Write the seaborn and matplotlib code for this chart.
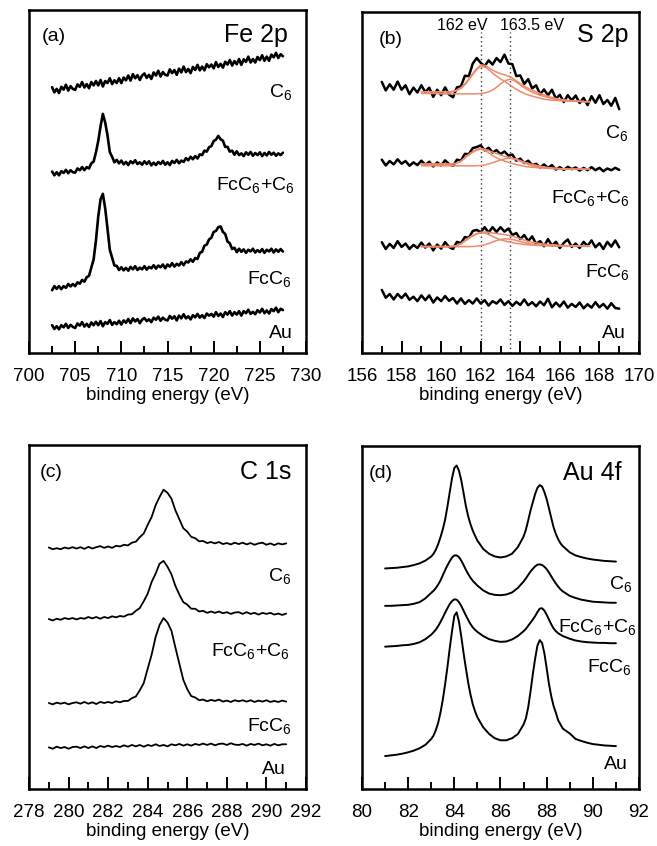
import numpy as np
import matplotlib
matplotlib.use('Agg')
import matplotlib.pyplot as plt
import matplotlib.ticker as mticker
from matplotlib.transforms import blended_transform_factory
import seaborn as sns

# ---------------- (a) Fe 2p ----------------
fe_x = np.round(np.arange(702.5, 727.51, 0.25), 2)
fe_c6 = [77.5, 76.0, 77.0, 75.8, 77.6, 76.8, 78.2, 76.5, 77.8, 77.0,
         76.7, 78.3, 77.6, 79.0, 77.4, 78.4, 77.2, 79.0, 78.0, 79.3,
         78.0, 79.6, 77.7, 79.3, 78.7, 80.1, 78.4, 79.5, 78.7, 80.1,
         78.7, 80.3, 79.5, 80.9, 79.4, 81.3, 80.1, 81.0, 79.6, 80.9,
         81.5, 80.2, 81.1, 79.9, 81.8, 80.9, 82.3, 80.6, 81.9, 81.1,
         80.9, 82.7, 81.6, 82.5, 81.1, 82.9, 81.8, 83.5, 81.9, 82.8,
         81.6, 83.4, 82.5, 84.0, 82.4, 83.5, 82.4, 84.2, 83.3, 84.1,
         83.0, 84.8, 83.4, 84.3, 83.2, 84.9, 84.1, 85.4, 83.8, 85.1,
         84.2, 85.7, 84.0, 85.6, 84.9, 86.4, 84.7, 85.7, 84.7, 86.3,
         85.4, 86.8, 85.2, 86.4, 85.2, 87.0, 86.2, 87.5, 86.0, 87.1, 86.5]
fe_mix = [52.9, 51.8, 52.7, 51.8, 53.0, 52.5, 53.4, 52.4, 53.3, 52.7,
          52.6, 53.8, 53.3, 54.2, 53.3, 54.2, 53.8, 55.3, 55.8, 58.5,
          61.8, 66.1, 69.7, 67.2, 63.5, 58.6, 57.2, 55.6, 56.3, 55.3,
          56.1, 55.0, 55.7, 54.8, 55.9, 55.3, 56.2, 55.1, 55.6, 54.9,
          55.9, 55.1, 55.9, 54.7, 55.5, 54.8, 55.7, 55.1, 56.0, 54.9,
          55.6, 54.8, 56.0, 55.4, 56.3, 55.3, 56.1, 55.7, 56.8, 56.2,
          57.2, 56.5, 57.4, 56.7, 57.9, 57.7, 59.0, 58.7, 60.0, 60.3,
          61.8, 62.2, 63.3, 62.3, 61.9, 60.1, 60.1, 58.7, 59.0, 57.8,
          58.8, 57.7, 58.2, 57.4, 58.5, 57.8, 58.6, 57.5, 58.3, 57.7,
          58.5, 57.4, 58.3, 57.6, 58.6, 57.8, 58.4, 57.5, 58.2, 57.7, 58.4]
fe_fc = [18.3, 19.5, 18.7, 19.5, 18.6, 19.5, 19.0, 20.1, 19.4, 20.1,
         19.5, 20.6, 20.2, 21.3, 20.8, 22.1, 22.5, 24.9, 27.3, 32.8,
         39.8, 44.8, 46.4, 42.2, 36.3, 30.1, 27.8, 25.5, 25.4, 24.2,
         25.0, 24.1, 24.8, 24.0, 25.1, 24.4, 25.3, 24.2, 24.9, 24.4,
         25.3, 24.3, 25.1, 24.7, 25.6, 24.6, 25.5, 25.0, 25.8, 24.7,
         25.8, 25.2, 26.2, 25.2, 26.0, 25.5, 26.5, 25.6, 26.7, 26.4,
         27.3, 26.6, 27.7, 27.4, 29.2, 29.5, 31.3, 31.6, 33.1, 33.6,
         35.3, 35.6, 36.7, 36.9, 35.3, 34.7, 32.5, 32.0, 30.3, 30.7,
         29.4, 30.4, 29.5, 30.2, 29.2, 30.1, 29.6, 30.4, 29.3, 30.0,
         29.4, 30.3, 29.2, 30.1, 29.6, 30.4, 29.3, 30.2, 29.5, 30.3, 29.6]
fe_au = [8.1, 7.0, 7.8, 6.9, 8.1, 7.5, 8.5, 7.3, 8.2, 7.6,
         7.3, 8.6, 8.0, 9.0, 7.7, 8.5, 7.6, 8.9, 8.1, 9.1,
         8.1, 9.3, 7.8, 9.0, 8.5, 9.6, 8.2, 9.0, 8.4, 9.4,
         8.3, 9.5, 8.8, 9.9, 8.7, 10.1, 9.2, 9.9, 8.7, 9.7,
         10.2, 9.3, 9.8, 9.0, 10.3, 9.7, 10.6, 9.4, 10.3, 9.7,
         9.5, 10.8, 10.0, 10.7, 9.5, 10.9, 10.1, 11.3, 10.1, 10.7,
         9.8, 11.0, 10.4, 11.4, 10.3, 11.0, 10.2, 11.5, 10.9, 11.4,
         10.6, 11.9, 10.8, 11.5, 10.5, 11.9, 11.2, 12.2, 10.9, 11.9,
         11.2, 12.2, 10.9, 12.2, 11.6, 12.6, 11.4, 12.0, 11.3, 12.5,
         11.8, 12.9, 11.6, 12.4, 11.5, 12.8, 12.2, 13.2, 11.9, 12.9, 12.5]

# ---------------- (b) S 2p ----------------
s_x = np.round(np.arange(157.0, 169.01, 0.2), 2)
s_c6 = [79.5, 77.0, 78.8, 77.2, 79.6, 77.2, 78.5, 75.9, 77.8, 76.4,
        78.5, 76.5, 77.8, 75.1, 77.2, 75.6, 77.9, 75.8, 75.0, 77.9,
        78.2, 81.3, 81.2, 84.9, 86.5, 85.1, 84.1, 85.8, 84.6, 86.5,
        85.3, 87.5, 84.9, 84.7, 81.2, 81.4, 78.9, 80.3, 77.6, 78.5,
        75.9, 77.3, 75.6, 77.2, 74.6, 75.7, 73.6, 75.6, 74.1, 75.5,
        73.3, 74.8, 72.7, 75.3, 73.4, 75.6, 73.0, 74.2, 72.5, 74.8, 71.5]
s_mix = [56.7, 55.0, 56.3, 55.3, 56.8, 55.5, 56.3, 54.9, 55.9, 55.1,
         56.4, 55.2, 56.1, 54.7, 55.9, 55.0, 56.5, 55.4, 54.9, 56.7,
         56.4, 58.4, 58.3, 60.1, 60.4, 60.9, 59.4, 60.2, 58.8, 59.5,
         58.3, 59.1, 57.9, 58.2, 56.4, 57.0, 55.7, 56.4, 55.1, 55.5,
         54.4, 55.3, 54.3, 55.1, 53.8, 54.5, 53.7, 54.6, 53.9, 54.4,
         53.5, 54.3, 53.6, 54.5, 53.6, 54.3, 53.3, 54.1, 53.6, 54.3, 53.7]
s_fc = [32.5, 30.5, 32.0, 30.8, 32.8, 31.1, 32.1, 30.5, 31.7, 30.8,
        32.4, 30.9, 32.1, 30.1, 31.8, 30.6, 32.5, 31.1, 30.5, 32.6,
        32.2, 34.0, 33.8, 35.8, 36.1, 35.4, 36.9, 35.3, 36.9, 35.5,
        36.9, 35.6, 36.5, 34.6, 35.2, 33.4, 34.6, 32.8, 34.2, 32.0,
        32.8, 31.3, 33.4, 31.5, 32.6, 30.8, 32.3, 33.3, 31.1, 32.1,
        30.8, 32.6, 31.4, 33.0, 31.0, 32.2, 30.5, 32.6, 31.2, 33.0, 31.0]
s_au = [18.5, 16.2, 17.3, 15.7, 17.3, 16.1, 17.4, 15.6, 16.5, 15.2,
        16.9, 15.5, 16.9, 14.8, 16.3, 15.2, 16.7, 15.3, 16.1, 14.5,
        16.0, 14.4, 15.5, 14.5, 16.0, 14.5, 15.5, 13.9, 15.2, 14.5,
        15.7, 14.1, 15.2, 13.8, 15.0, 14.1, 15.7, 14.0, 14.9, 13.7,
        15.1, 14.0, 15.9, 13.4, 14.8, 13.6, 15.1, 13.3, 14.4, 13.5,
        14.8, 13.1, 14.3, 13.3, 14.9, 13.4, 14.4, 13.0, 14.6, 13.2, 13.0]

# peak fits (envelope + 162 eV + 163.5 eV components)
fit_x = np.round(np.arange(159.0, 167.51, 0.25), 2)
fit_c6_env = [76.6, 76.6, 76.6, 76.6, 76.6, 76.6, 76.6, 77.0, 77.8, 79.3,
              81.2, 83.1, 84.5, 84.3, 83.3, 82.5, 81.9, 81.5, 81.0, 80.0,
              79.0, 78.1, 77.3, 76.7, 76.1, 75.6, 75.1, 74.7, 74.4, 74.2,
              74.0, 73.9, 73.8, 73.7, 73.7]
fit_c6_p1 = [76.6, 76.6, 76.6, 76.6, 76.6, 76.6, 76.6, 76.9, 77.6, 79.0,
             80.9, 82.8, 84.1, 83.8, 82.6, 81.4, 80.4, 79.5, 78.5, 77.5,
             76.7, 76.0, 75.5, 75.1, 74.7, 74.4, 74.2, 74.1, 74.0, 73.9,
             73.9, 73.8, 73.8, 73.7, 73.7]
fit_c6_p2 = [76.1, 76.1, 76.1, 76.1, 76.0, 76.0, 76.0, 76.0, 76.0, 76.0,
             76.0, 76.0, 76.1, 76.3, 76.8, 77.7, 78.9, 79.9, 80.3, 79.7,
             78.6, 77.6, 76.8, 76.1, 75.6, 75.2, 74.8, 74.4, 74.2, 74.0,
             73.9, 73.8, 73.8, 73.7, 73.7]
fit_mix_env = [55.4, 55.4, 55.4, 55.4, 55.4, 55.4, 55.4, 55.6, 56.3, 57.6,
               58.7, 59.6, 60.0, 59.7, 59.1, 58.6, 58.1, 57.6, 57.2, 56.9,
               56.4, 55.9, 55.4, 55.1, 54.8, 54.5, 54.3, 54.1, 54.0, 53.9,
               53.9, 53.9, 53.9, 53.9, 53.9]
fit_mix_p1 = [55.4, 55.4, 55.4, 55.4, 55.4, 55.4, 55.4, 55.6, 56.2, 57.4,
              58.5, 59.4, 59.8, 59.3, 58.3, 57.4, 56.7, 56.2, 55.7, 55.3,
              55.0, 54.7, 54.5, 54.4, 54.3, 54.2, 54.1, 54.0, 54.0, 53.9,
              53.9, 53.9, 53.9, 53.9, 53.9]
fit_mix_p2 = [54.9, 54.9, 54.9, 54.9, 54.9, 54.9, 54.9, 54.9, 54.9, 54.9,
              54.9, 54.9, 55.0, 55.2, 55.6, 56.1, 56.6, 57.0, 57.1, 56.8,
              56.2, 55.6, 55.1, 54.8, 54.6, 54.4, 54.3, 54.2, 54.1, 54.0,
              53.9, 53.9, 53.9, 53.9, 53.9]
fit_fc_env = [31.2, 31.2, 31.2, 31.2, 31.2, 31.2, 31.2, 31.4, 32.1, 33.2,
              34.2, 34.9, 35.4, 35.5, 35.3, 35.1, 34.9, 34.7, 34.4, 34.0,
              33.5, 33.0, 32.6, 32.3, 32.1, 31.9, 31.8, 31.7, 31.6, 31.5,
              31.5, 31.4, 31.4, 31.4, 31.4]
fit_fc_p1 = [31.2, 31.2, 31.2, 31.2, 31.2, 31.2, 31.2, 31.4, 32.0, 33.0,
             34.0, 34.8, 35.3, 35.1, 34.5, 33.8, 33.2, 32.8, 32.5, 32.2,
             32.0, 31.8, 31.7, 31.6, 31.5, 31.5, 31.5, 31.4, 31.4, 31.4,
             31.4, 31.4, 31.4, 31.4, 31.4]
fit_fc_p2 = [31.2, 31.2, 31.2, 31.2, 31.2, 31.2, 31.2, 31.2, 31.2, 31.2,
             31.2, 31.3, 31.5, 31.8, 32.3, 32.9, 33.3, 33.5, 33.4, 33.1,
             32.7, 32.3, 32.0, 31.8, 31.6, 31.5, 31.5, 31.4, 31.4, 31.4,
             31.4, 31.4, 31.4, 31.4, 31.4]
ref_lines = [162.0, 163.5]
ref_labels = ['162 eV', '163.5 eV']

# ---------------- (c) C 1s ----------------
c_x = np.round(np.arange(279.0, 291.01, 0.2), 2)
c_c6 = [70.2, 69.7, 70.0, 69.7, 70.2, 69.9, 70.3, 69.9, 70.3, 69.8,
        70.4, 69.9, 70.3, 70.6, 70.1, 70.5, 70.1, 70.7, 70.5, 71.0,
        70.8, 71.6, 71.9, 73.2, 74.3, 76.8, 79.1, 82.5, 84.9, 87.0,
        86.1, 84.4, 81.0, 78.4, 75.8, 74.8, 73.3, 72.9, 72.0, 72.1,
        71.5, 71.8, 71.4, 71.8, 71.2, 71.5, 71.1, 71.6, 71.2, 71.6,
        71.1, 71.5, 71.0, 71.4, 71.6, 71.0, 71.4, 70.9, 71.4, 71.1, 71.4]
c_mix = [49.4, 49.0, 49.5, 49.2, 49.7, 49.4, 49.7, 49.3, 49.7, 49.5,
         50.0, 49.6, 50.0, 49.5, 50.0, 49.7, 50.2, 49.9, 50.3, 50.1,
         50.7, 50.8, 51.8, 52.6, 54.6, 56.8, 60.2, 62.6, 65.5, 66.3,
         64.6, 62.4, 59.0, 56.5, 54.3, 53.6, 52.4, 52.4, 51.6, 51.8,
         51.2, 51.6, 51.2, 51.6, 51.1, 51.4, 50.9, 51.3, 51.4, 50.9,
         51.4, 50.9, 51.2, 50.7, 51.2, 50.9, 51.2, 50.7, 51.0, 50.6, 51.0]
c_fc = [25.0, 24.6, 25.1, 24.8, 25.1, 24.6, 25.0, 25.2, 24.8, 25.3,
        24.8, 25.2, 24.7, 25.3, 25.0, 25.3, 25.0, 25.5, 25.2, 25.6,
        25.6, 26.4, 26.9, 28.7, 30.8, 35.0, 39.1, 44.2, 47.7, 49.7,
        48.4, 46.0, 41.1, 36.4, 31.7, 29.0, 27.0, 26.6, 25.8, 26.0,
        25.5, 25.9, 25.6, 26.0, 25.4, 25.7, 25.3, 25.8, 25.5, 25.8,
        25.4, 25.8, 25.3, 25.7, 25.4, 25.8, 25.3, 25.6, 25.3, 25.7, 25.4]
c_au = [12.1, 11.7, 12.3, 11.9, 12.2, 11.7, 12.2, 12.3, 11.9, 12.4,
        11.9, 12.4, 11.9, 12.5, 12.2, 12.6, 12.2, 12.5, 12.2, 12.7,
        12.3, 12.8, 12.4, 12.8, 12.3, 12.8, 12.5, 13.0, 12.5, 12.8,
        12.4, 13.0, 12.7, 13.1, 12.6, 13.0, 12.6, 13.1, 12.8, 13.2,
        12.8, 13.2, 12.7, 13.1, 13.2, 12.8, 13.3, 12.9, 12.8, 13.1,
        12.6, 13.1, 12.8, 13.2, 12.7, 13.0, 12.6, 13.1, 12.7, 13.0, 13.0]

# ---------------- (d) Au 4f ----------------
au_x = [81.0, 81.25, 81.5, 81.75, 82.0, 82.25, 82.5, 82.75, 83.0,
        83.1, 83.2, 83.3, 83.4, 83.5, 83.6, 83.7, 83.8, 83.9, 84.0,
        84.1, 84.2, 84.3, 84.4, 84.5, 84.6, 84.7, 84.8, 84.9, 85.0,
        85.25, 85.5, 85.75, 86.0, 86.25, 86.5, 86.75, 87.0,
        87.1, 87.2, 87.3, 87.4, 87.5, 87.6, 87.7, 87.8, 87.9, 88.0,
        88.1, 88.2, 88.3, 88.4, 88.5, 88.6, 88.7,
        89.0, 89.25, 89.5, 89.75, 90.0, 90.25, 90.5, 90.75, 91.0]
au_c6 = [64.3, 64.4, 64.5, 64.7, 64.9, 65.3, 65.8, 66.6, 67.8,
         68.6, 69.8, 71.4, 73.4, 75.7, 78.5, 82.3, 86.5, 90.6, 93.6,
         94.3, 92.8, 90.0, 86.3, 82.5, 79.5, 77.2, 75.3, 73.8, 72.4,
         70.0, 68.6, 67.8, 67.5, 67.8, 68.6, 70.5, 73.6,
         75.6, 78.3, 81.2, 83.6, 86.0, 87.8, 88.6, 88.2, 86.6, 84.5,
         81.8, 79.0, 76.3, 74.3, 72.8, 71.6, 70.8,
         69.0, 68.1, 67.6, 67.2, 66.9, 66.7, 66.5, 66.4, 66.3]
au_mix = [53.4, 53.4, 53.5, 53.6, 53.7, 54.0, 54.5, 55.6, 57.2,
          57.8, 58.6, 59.6, 60.8, 62.3, 63.8, 65.2, 66.4, 67.5, 68.1,
          68.1, 67.6, 66.6, 65.3, 63.9, 62.7, 61.6, 60.7, 60.0, 59.3,
          57.9, 57.0, 56.6, 56.5, 56.7, 57.3, 58.6, 60.5,
          61.4, 62.4, 63.4, 64.2, 64.9, 65.4, 65.5, 65.3, 64.8, 64.1,
          63.1, 62.0, 60.9, 59.9, 59.0, 58.2, 57.6,
          56.3, 55.7, 55.2, 54.9, 54.6, 54.5, 54.4, 54.3, 54.3]
au_fc = [41.5, 41.6, 41.7, 41.9, 42.0, 42.3, 42.8, 43.7, 45.0,
         45.7, 46.5, 47.5, 48.7, 50.0, 51.4, 52.7, 53.9, 54.8, 55.3,
         55.2, 54.5, 53.4, 52.0, 50.6, 49.3, 48.1, 47.1, 46.4, 45.8,
         44.6, 43.7, 43.2, 42.9, 43.0, 43.6, 44.6, 46.0,
         46.7, 47.6, 48.5, 49.4, 50.4, 51.6, 52.6, 52.7, 52.0, 50.8,
         49.4, 48.0, 46.8, 46.0, 45.4, 45.0, 44.6,
         43.8, 43.3, 43.0, 42.8, 42.7, 42.6, 42.6, 42.5, 42.5]
au_au = [9.6, 9.8, 10.0, 10.3, 10.7, 11.2, 11.9, 12.9, 14.6,
         15.6, 17.2, 19.3, 22.3, 26.0, 30.5, 35.5, 41.0, 46.0, 50.5,
         51.5, 48.8, 44.5, 39.6, 35.2, 31.0, 27.5, 24.7, 22.6, 20.9,
         18.0, 16.1, 14.8, 14.2, 14.2, 14.8, 16.0, 18.8,
         20.6, 23.8, 28.4, 33.5, 38.0, 41.8, 43.4, 42.6, 39.6, 35.2,
         30.6, 27.0, 24.2, 22.2, 20.0, 18.8, 17.6,
         16.2, 14.6, 14.0, 13.5, 13.1, 12.9, 12.7, 12.6, 12.5]

sample_labels = ['C$_6$', 'FcC$_6$+C$_6$', 'FcC$_6$', 'Au']

sns.set_theme(style='white')
plt.rcParams['font.family'] = ['Liberation Sans', 'DejaVu Sans']
plt.rcParams['mathtext.fontset'] = 'custom'
plt.rcParams['mathtext.rm'] = 'Liberation Sans'
plt.rcParams['mathtext.it'] = 'Liberation Sans'
# seaborn greys the text by default; the figure uses plain black
plt.rcParams['text.color'] = 'black'
plt.rcParams['axes.labelcolor'] = 'black'
plt.rcParams['xtick.color'] = 'black'
plt.rcParams['xtick.labelcolor'] = 'black'

FIT_COLOR = '#F08A6A'

fig = plt.figure(figsize=(6.57, 8.46), dpi=100)
fig.patch.set_facecolor('white')

# axes rectangles in figure fraction [left, bottom, width, height]
rects = {
    'a': [29 / 657, 1 - 353 / 846, 277 / 657, 343 / 846],
    'b': [362 / 657, 1 - 353 / 846, 277 / 657, 341 / 846],
    'c': [29 / 657, 1 - 789 / 846, 277 / 657, 344 / 846],
    'd': [362 / 657, 1 - 789 / 846, 277 / 657, 343 / 846],
}


def style_axes(ax, xlim, major, minor):
    ax.set_xlim(*xlim)
    ax.set_ylim(0, 100)
    ax.set_yticks([])
    ax.set_ylabel('')
    ax.xaxis.set_major_locator(mticker.MultipleLocator(major))
    ax.xaxis.set_minor_locator(mticker.MultipleLocator(minor))
    ax.xaxis.set_major_formatter(mticker.FormatStrFormatter('%d'))
    ax.tick_params(axis='x', which='both', direction='in', bottom=True, top=False,
                   width=1.4, color='black', labelcolor='black',
                   labelsize=13.5, pad=11)
    ax.tick_params(axis='x', which='major', length=9)
    ax.tick_params(axis='x', which='minor', length=5)
    for sp in ax.spines.values():
        sp.set_linewidth(1.8)
        sp.set_color('black')
    ax.set_xlabel('binding energy (eV)', fontsize=13.5, labelpad=1, color='black')
    ax.set_facecolor('white')


def trace(ax, x, y, color='black', lw=1.3, z=3):
    sns.lineplot(x=x, y=y, ax=ax, color=color, linewidth=lw,
                 estimator=None, sort=False, legend=False, zorder=z)


def add_labels(ax, xs, ys):
    tr = blended_transform_factory(ax.transAxes, ax.transData)
    for lab, xf, yv in zip(sample_labels, xs, ys):
        ax.text(xf, yv, lab, transform=tr, ha='right', va='center',
                fontsize=14, color='black')


def add_title(ax, tag, tag_x, tag_y, name, name_x, name_y):
    tr = blended_transform_factory(ax.transAxes, ax.transData)
    ax.text(tag_x, tag_y, tag, transform=tr, ha='left', va='center',
            fontsize=14, color='black')
    ax.text(name_x, name_y, name, transform=tr, ha='right', va='center',
            fontsize=18, color='black')


# (a)
ax = fig.add_axes(rects['a'])
for y in (fe_c6, fe_mix, fe_fc, fe_au):
    trace(ax, fe_x, y, lw=1.9)
style_axes(ax, (700, 730), 5, 2.5)
add_labels(ax, [0.95, 0.96, 0.95, 0.953], [76.0, 49.0, 21.5, 5.8])
add_title(ax, '(a)', 0.045, 92.2, 'Fe 2p', 0.933, 92.7)

# (b)
ax = fig.add_axes(rects['b'])
for xv in ref_lines:
    ax.axvline(xv, ymin=0, ymax=0.94, color='#333333', lw=1.0,
               ls=(0, (1, 2.2)), zorder=1)
for y in (s_c6, s_mix, s_fc, s_au):
    trace(ax, s_x, y, lw=1.8)
for env, p1, p2 in ((fit_c6_env, fit_c6_p1, fit_c6_p2),
                    (fit_mix_env, fit_mix_p1, fit_mix_p2),
                    (fit_fc_env, fit_fc_p1, fit_fc_p2)):
    for y in (p1, p2, env):
        trace(ax, fit_x, y, color=FIT_COLOR, lw=1.1, z=4)
style_axes(ax, (156, 170), 2, 1)
add_labels(ax, [0.963, 0.968, 0.968, 0.954], [64.4, 45.6, 23.8, 5.8])
add_title(ax, '(b)', 0.06, 92.0, 'S 2p', 0.962, 93.4)
for xv, lab, off in zip(ref_lines, ref_labels, (-0.93, 1.1)):
    ax.text(xv + off, 96.0, lab, ha='center', va='center', fontsize=11.5,
            color='black')

# (c)
ax = fig.add_axes(rects['c'])
for y in (c_c6, c_mix, c_fc, c_au):
    trace(ax, c_x, y, lw=1.3)
style_axes(ax, (278, 292), 2, 1)
add_labels(ax, [0.948, 0.942, 0.948, 0.928], [61.8, 40.1, 18.4, 5.8])
add_title(ax, '(c)', 0.039, 92.0, 'C 1s', 0.948, 92.2)

# (d)
ax = fig.add_axes(rects['d'])
for y in (au_c6, au_mix, au_fc, au_au):
    trace(ax, au_x, y, lw=1.4)
style_axes(ax, (80, 92), 2, 1)
add_labels(ax, [0.974, 0.99, 0.974, 0.961], [59.8, 47.2, 35.6, 7.0])
add_title(ax, '(d)', 0.024, 92.0, 'Au 4f', 0.9375, 92.0)

fig.savefig('out.png', dpi=100, facecolor='white')
